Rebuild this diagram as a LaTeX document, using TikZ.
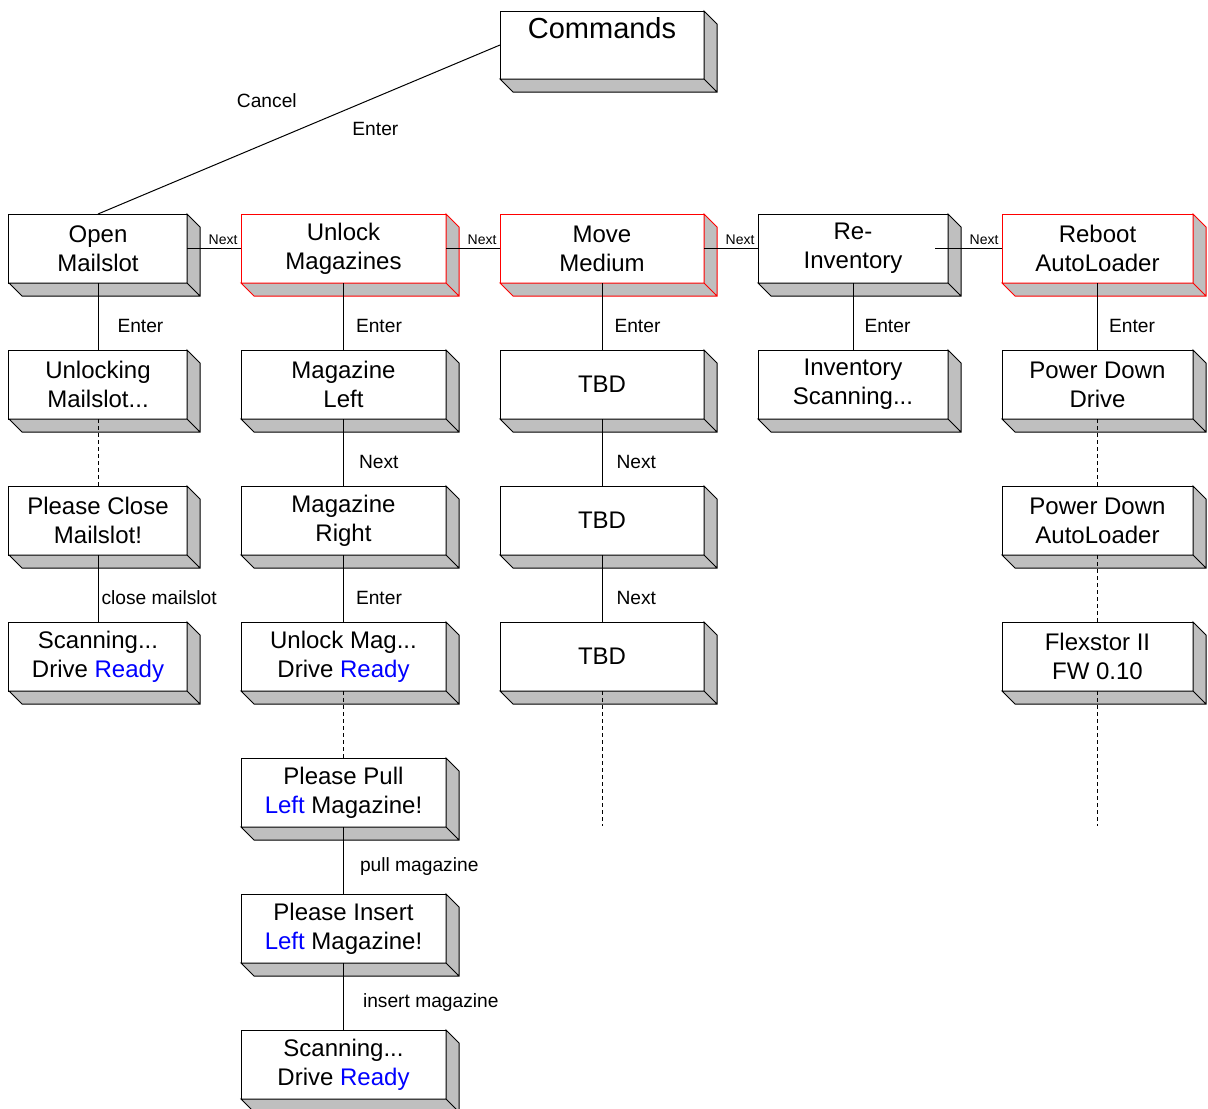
\documentclass[tikz,border=0pt]{standalone}
\usepackage{fontspec}
\setmainfont{Liberation Sans}
\usetikzlibrary{positioning, matrix}

\begin{document}
\begin{tikzpicture}[line width=0.5pt,
    box/.style={draw, fill=white, outer sep=0pt, inner sep=1pt, minimum height=34.5pt,
      align=center, font=\fontsize{12}{14.5}\selectfont},
    rbox/.style={box, draw=red},
    side/.style={fill=gray!50, line join=miter},
    lbl/.style={font=\fontsize{9.6}{11}\selectfont, inner sep=1pt, right, yshift=-4.5pt},
    nlbl/.style={font=\fontsize{7}{8}\selectfont, inner sep=1.5pt, pos=1, anchor=south east},
    dl/.style={dash pattern=on 2pt off 1.5pt}]
  \useasboundingbox (0,0) rectangle (604pt,-554pt);
  \matrix (m) [anchor=north west, inner sep=0pt, row sep=33pt, column sep=26.5pt,
      ampersand replacement=\&,
      column 1/.style={nodes={minimum width=89pt}},
      column 2/.style={nodes={minimum width=102.5pt}},
      column 3/.style={nodes={minimum width=102pt}},
      column 4/.style={nodes={minimum width=95pt}},
      column 5/.style={nodes={minimum width=95.5pt}}] at (4pt,-106.5pt) {
    \node[box] (open) {Open\\Mailslot}; \& \node[rbox] (unlock) {Unlock\\Magazines}; \&
      \node[rbox] (move) {Move\\Medium}; \& \node[box] (reinv) {Re-\\Inventory}; \&
      \node[rbox] (reboot) {Reboot\\AutoLoader}; \\
    \node[box] (unlocking) {Unlocking\\Mailslot...}; \& \node[box] (magleft) {Magazine\\Left}; \&
      \node[box] (tbd1) {TBD}; \& \node[box] (invscan) {Inventory\\Scanning...}; \&
      \node[box] (pwrdrive) {Power Down\\Drive}; \\
    \node[box] (close) {Please Close\\Mailslot!}; \& \node[box] (magright) {Magazine\\Right}; \&
      \node[box] (tbd2) {TBD}; \& \& \node[box] (pwral) {Power Down\\AutoLoader}; \\
    \node[box] (scan1) {Scanning...\\Drive \textcolor{blue}{Ready}}; \&
      \node[box] (unlockmag) {Unlock Mag...\\Drive \textcolor{blue}{Ready}}; \&
      \node[box] (tbd3) {TBD}; \& \& \node[box] (flex) {Flexstor II\\FW 0.10}; \\
    \& \node[box] (pull) {Please Pull\\\textcolor{blue}{Left} Magazine!}; \\
    \& \node[box] (insert) {Please Insert\\\textcolor{blue}{Left} Magazine!}; \\
    \& \node[box] (scan2) {Scanning...\\Drive \textcolor{blue}{Ready}}; \\
  };
  \node[box, minimum width=102pt, minimum height=34pt, font=\fontsize{14.5}{17}\selectfont,
    above=67.5pt of move] (cmd) {Commands\\~};

  % 3d sides
  \foreach \n in {cmd, open, reinv, unlocking, magleft, tbd1, invscan, pwrdrive, close, magright,
      tbd2, pwral, scan1, unlockmag, tbd3, flex, pull, insert, scan2}
    \draw[side] (\n.north east) -- ++(6.5pt,-6.5pt) -- ([shift={(6.5pt,-6.5pt)}]\n.south east)
      -- ([shift={(6.5pt,-6.5pt)}]\n.south west) -- (\n.south west) -- (\n.south east) -- cycle
      (\n.south east) -- ++(6.5pt,-6.5pt);
  \foreach \n in {unlock, move, reboot}
    \draw[side, draw=red] (\n.north east) -- ++(6.5pt,-6.5pt) -- ([shift={(6.5pt,-6.5pt)}]\n.south east)
      -- ([shift={(6.5pt,-6.5pt)}]\n.south west) -- (\n.south west) -- (\n.south east) -- cycle
      (\n.south east) -- ++(6.5pt,-6.5pt);

  \coordinate (tbdend) at ([yshift=-67.5pt]tbd3.south);
  \coordinate (flexend) at ([yshift=-67.5pt]flex.south);

  \draw (open.north) -- (cmd.west)
    node[lbl, pos=0.42, anchor=center, yshift=25.5pt] {Cancel}
    node[lbl, pos=0.69, anchor=center, yshift=-11.5pt] {Enter};
  \draw (open.east) -- (unlock.west) node[nlbl] {Next};
  \draw (unlock.east) -- (move.west) node[nlbl] {Next};
  \draw (move.east) -- (reinv.west) node[nlbl] {Next};
  \draw ([xshift=-6.5pt]reinv.east) -- (reboot.west) node[nlbl] {Next};

  \draw (open) -- (unlocking) node[lbl, midway, xshift=8.5pt] {Enter};
  \draw[dl] (unlocking) -- (close);
  \draw (close) -- (scan1) node[lbl, midway, xshift=0.5pt] {close mailslot};

  \draw (unlock) -- (magleft) node[lbl, midway, xshift=5pt] {Enter};
  \draw (magleft) -- (magright) node[lbl, midway, xshift=6.5pt] {Next};
  \draw (magright) -- (unlockmag) node[lbl, midway, xshift=5pt] {Enter};
  \draw[dl] (unlockmag) -- (pull);
  \draw (pull) -- (insert) node[lbl, midway, xshift=7pt, yshift=1.5pt] {pull magazine};
  \draw (insert) -- (scan2) node[lbl, midway, xshift=8.5pt, yshift=1.5pt] {insert magazine};

  \draw (move) -- (tbd1) node[lbl, midway, xshift=5pt] {Enter};
  \draw (tbd1) -- (tbd2) node[lbl, midway, xshift=6pt] {Next};
  \draw (tbd2) -- (tbd3) node[lbl, midway, xshift=6pt] {Next};
  \draw[dl] (tbd3) -- (tbdend);

  \draw (reinv) -- (invscan) node[lbl, midway, xshift=4.5pt] {Enter};

  \draw (reboot) -- (pwrdrive) node[lbl, midway, xshift=4.5pt] {Enter};
  \draw[dl] (pwrdrive) -- (pwral);
  \draw[dl] (pwral) -- (flex);
  \draw[dl] (flex) -- (flexend);
\end{tikzpicture}
\end{document}
